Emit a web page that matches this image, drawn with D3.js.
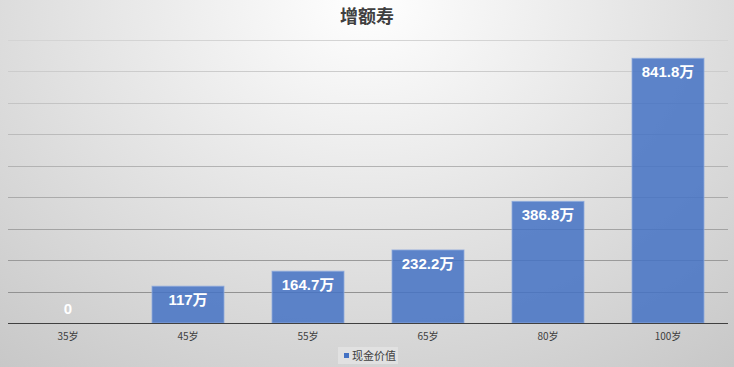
<!DOCTYPE html>
<html>
<head>
<meta charset="utf-8">
<script src="https://cdn.jsdelivr.net/npm/d3@7"></script>
<style>
    body { margin: 0; }
    svg { display: block; font-family: "Noto Sans CJK SC", "Liberation Sans", sans-serif; }
</style>
</head>
<body>
<div id="chart"></div>
<script>
var categories = ["35岁", "45岁", "55岁", "65岁", "80岁", "100岁"];
var values = [0, 117, 164.7, 232.2, 386.8, 841.8];
var labels = ["0", "117万", "164.7万", "232.2万", "386.8万", "841.8万"];
var yTicks = [0, 100, 200, 300, 400, 500, 600, 700, 800, 900];
var seriesName = "现金价值";
var title = "增额寿";

var W = 734, H = 367;
var margin = {left: 8, right: 6, top: 40, bottom: 44};

var svg = d3.select("#chart").append("svg")
    .attr("width", W)
    .attr("height", H);

// background: light centre, grey towards the edges
var defs = svg.append("defs");
var bg = defs.append("radialGradient")
    .attr("id", "bg")
    .attr("cx", "50%").attr("cy", "0%")
    .attr("r", "85%")
    .attr("gradientTransform", "translate(0.5,0) scale(1,1.6) translate(-0.5,0)");
bg.append("stop").attr("offset", "0%").attr("stop-color", "#ffffff");
bg.append("stop").attr("offset", "100%").attr("stop-color", "#c4c4c4");

svg.append("rect")
    .attr("width", W).attr("height", H)
    .attr("fill", "url(#bg)");

var x = d3.scaleBand()
    .domain(categories)
    .range([margin.left, W - margin.right])
    .paddingInner(0.4)
    .paddingOuter(0.2);

var y = d3.scaleLinear()
    .domain([0, 900])
    .range([H - margin.bottom, margin.top]);

// gridlines, getting a bit darker near the bottom
var gridColor = d3.scaleLinear().domain([900, 0]).range(["#d4d4d4", "#8a8a8a"]);
svg.append("g")
    .selectAll("line")
    .data(yTicks.slice(1))
    .join("line")
    .attr("x1", margin.left).attr("x2", W - margin.right)
    .attr("y1", d => Math.round(y(d)) + 0.5)
    .attr("y2", d => Math.round(y(d)) + 0.5)
    .attr("stroke", d => gridColor(d))
    .attr("stroke-width", 1);

// bars
svg.append("g")
    .selectAll("rect")
    .data(values)
    .join("rect")
    .attr("x", (d, i) => x(categories[i]))
    .attr("width", x.bandwidth())
    .attr("y", d => y(d))
    .attr("height", d => y(0) - y(d))
    .attr("fill", "#4472c4")
    .attr("fill-opacity", 0.85)
    .attr("stroke", "#8eaadc")
    .attr("stroke-width", 1)
    .attr("stroke-opacity", d => d > 0 ? 0.8 : 0);

// axis line
svg.append("line")
    .attr("x1", margin.left).attr("x2", W - margin.right)
    .attr("y1", Math.round(y(0)) + 0.5).attr("y2", Math.round(y(0)) + 0.5)
    .attr("stroke", "#404040")
    .attr("stroke-width", 1.2);

// data labels (latin digits, CJK fallback for 万)
svg.append("g")
    .selectAll("text")
    .data(labels)
    .join("text")
    .attr("x", (d, i) => x(categories[i]) + x.bandwidth() / 2)
    .attr("y", (d, i) => values[i] > 0 ? y(values[i]) + 19 : y(0) - 9)
    .attr("text-anchor", "middle")
    .attr("fill", "#ffffff")
    .attr("font-family", "'Liberation Sans', 'Noto Sans CJK SC', sans-serif")
    .attr("font-size", 15)
    .attr("font-weight", "bold")
    .text(d => d);

// x axis labels
svg.append("g")
    .selectAll("text")
    .data(categories)
    .join("text")
    .attr("x", d => x(d) + x.bandwidth() / 2)
    .attr("y", y(0) + 17)
    .attr("text-anchor", "middle")
    .attr("fill", "#404040")
    .attr("font-size", 10)
    .text(d => d);

// title
svg.append("text")
    .attr("x", W / 2)
    .attr("y", 23)
    .attr("text-anchor", "middle")
    .attr("fill", "#404040")
    .attr("font-size", 18)
    .attr("font-weight", "bold")
    .text(title);

// legend
var lg = svg.append("g").attr("transform", "translate(338,347)");
lg.append("rect")
    .attr("width", 60).attr("height", 17)
    .attr("fill", "#e4e4e4")
    .attr("fill-opacity", 0.8);
lg.append("rect")
    .attr("x", 6).attr("y", 6)
    .attr("width", 5).attr("height", 5)
    .attr("fill", "#4472c4");
lg.append("text")
    .attr("x", 14).attr("y", 12.5)
    .attr("fill", "#404040")
    .attr("font-size", 11)
    .text(seriesName);
</script>
</body>
</html>
